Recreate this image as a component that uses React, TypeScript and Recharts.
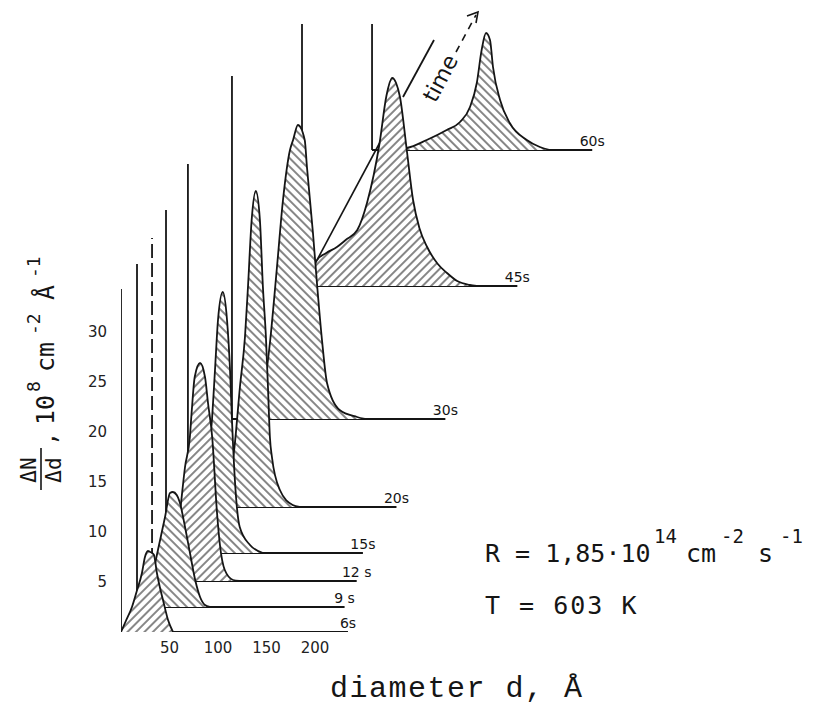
import React from 'react';
import { ComposedChart, Area, Line, XAxis, YAxis, Customized, LabelList } from 'recharts';

// time slices of the waterfall (front to back)
const sliceLabels = ['6s', '9 s', '12 s', '15s', '20s', '30s', '45s', '60s'];
// position of each slice origin along the oblique time axis, in Å and in 10^8 cm^-2 Å^-1
const shiftD = [0, 16.5, 32, 46.4, 69, 114.4, 186.6, 258.8];
const shiftN = [0, 2.5, 5.1, 7.9, 12.5, 21.3, 34.6, 48.2];
const axisTop = 34.3;
const baselineEnd = [234, 214, 211, 203, 215, 220, 222, 227];

// size distributions: diameter d (Å) and ΔN/Δd
const d6 = [0, 5, 11.3, 16, 21.6, 24.7, 27.8, 30, 32, 34, 37, 40, 43.3, 48.5, 53.6];
const n6 = [0, 1.1, 2.5, 4.0, 5.9, 7.5, 8.1, 8.0, 7.9, 7.7, 5.9, 4.5, 3.2, 1.2, 0];
const d9 = [0, 5, 10, 15, 21.6, 28.9, 34, 37, 41, 44, 49.5, 54.6, 60, 65, 70, 75];
const n9 = [0, 0.3, 1.2, 2.8, 5.7, 9.0, 11.4, 11.5, 11.2, 10.5, 8.0, 5.4, 2.7, 1.0, 0.2, 0];
const d12 = [0, 8, 13, 18.5, 24, 29, 34, 39, 41, 44, 49.5, 54.6, 57.7, 62, 67, 70, 75, 83.5, 90];
const n12 = [0, 0, 0.1, 0.6, 3, 7, 11.4, 14.4, 17.1, 20.4, 21.8, 20.4, 17.8, 14.4, 6.8, 3.6, 1.1, 0.1, 0];
const d15 = [0, 20, 24, 27, 33, 40, 47.4, 50.5, 53.6, 58.5, 62.9, 66, 68, 71, 76, 86.6, 100];
const n15 = [0, 0, 0, 0.3, 2.3, 7.3, 13.3, 18.3, 23.3, 26.1, 23.3, 18.3, 13.3, 7.3, 2.6, 0.8, 0];
const d20 = [0, 30, 36, 42, 48, 53.6, 58.8, 61.9, 65.7, 70, 74.2, 77.3, 80.4, 82.5, 84.5, 86.6, 94.8, 108, 115];
const n20 = [0, 0, 0, 2, 6, 12, 17, 22, 28.7, 31.6, 28.7, 22, 17, 12, 7, 5, 1.7, 0.2, 0];
const d30 = [0, 14, 20, 26, 33, 39, 46.4, 52.6, 59.8, 63, 68, 75, 77.3, 83.5, 87.6, 92.8, 98, 111, 129, 137];
const n30 = [0, 0, 0.1, 0.6, 3, 7.5, 15.2, 21.9, 26.9, 27.9, 29.4, 27.9, 25.2, 18.6, 13.6, 7.9, 3.6, 0.9, 0.2, 0];
const d45 = [0, 8, 15.5, 25, 36, 45, 57, 67, 80, 87, 93, 97, 101, 108, 114.5, 121, 129, 140, 149.5, 160, 173, 180];
const n45 = [0, 1.0, 2.6, 3.3, 3.9, 4.6, 5.6, 8.3, 14.3, 19, 20.8, 20.3, 18.9, 13.6, 8.6, 5.8, 3.9, 2.2, 1.3, 0.5, 0.1, 0];
const d60 = [0, 20, 35.8, 56.4, 77, 90.7, 101, 108, 113, 117.5, 121.6, 124.7, 132, 142, 159.5, 173, 183.5];
const n60 = [0, 0.05, 0.2, 1, 2, 2.8, 4.3, 6.7, 10, 11.7, 11, 8.3, 5, 2.7, 1, 0.3, 0];
const curvesD = [d6, d9, d12, d15, d20, d30, d45, d60];
const curvesN = [n6, n9, n12, n15, n20, n30, n45, n60];
// straight envelope edge on the 45 s distribution
const edge45D = [15.5, 80];
const edge45N = [2.6, 14.3];

const xTicks = [50, 100, 150, 200];
const yTicks = [5, 10, 15, 20, 25, 30];

const hatchIds = ['hatchF', 'hatchB', 'hatchF', 'hatchB', 'hatchB', 'hatchB', 'hatchF', 'hatchB'];

const slices = sliceLabels.map((label, i) => ({
  label,
  dy: shiftN[i],
  curve: curvesD[i].map((d, j) => ({ x: shiftD[i] + d, y: shiftN[i] + curvesN[i][j] })),
  axis: [
    { x: shiftD[i], y: shiftN[i] },
    { x: shiftD[i], y: shiftN[i] + axisTop },
  ],
  base: [
    { x: shiftD[i], y: shiftN[i], lbl: '' },
    { x: shiftD[i] + baselineEnd[i], y: shiftN[i], lbl: label },
  ],
}));

const edge45 = edge45D.map((d, j) => ({ x: shiftD[6] + d, y: shiftN[6] + edge45N[j] }));

const INK = '#151515';

const renderSliceLabel = (props: any) => {
  const { x, y, value } = props;
  if (!value) return null;
  return (
    <text x={x} y={y - 4} textAnchor="middle" fontSize={14} fontFamily="DejaVu Sans" fill={INK}>
      {value}
    </text>
  );
};

const Defs = () => (
  <defs>
    <pattern id="hatchF" patternUnits="userSpaceOnUse" width="6" height="6" patternTransform="rotate(45)">
      <rect width="6" height="6" fill="#fff" />
      <line x1="3" y1="0" x2="3" y2="6" stroke="#222" strokeWidth="1.1" />
    </pattern>
    <pattern id="hatchB" patternUnits="userSpaceOnUse" width="6" height="6" patternTransform="rotate(-45)">
      <rect width="6" height="6" fill="#fff" />
      <line x1="3" y1="0" x2="3" y2="6" stroke="#222" strokeWidth="1.1" />
    </pattern>
  </defs>
);

const Annotations = () => (
  <g fill={INK}>
    {/* y axis title */}
    <g transform="translate(54 496) rotate(-90)" fontFamily="DejaVu Sans Mono">
      <text x={26} y={-18} fontSize={21} textAnchor="middle">ΔN</text>
      <line x1={6} x2={48} y1={-13} y2={-13} stroke={INK} strokeWidth={1.6} />
      <text x={26} y={7} fontSize={21} textAnchor="middle">Δd</text>
      <text x={50} y={2} fontSize={24}>,</text>
      <text x={71} y={0} fontSize={25}>10</text>
      <text x={104} y={-14} fontSize={18}>8</text>
      <text x={124} y={0} fontSize={25}>cm</text>
      <text x={161} y={-14} fontSize={18}>-2</text>
      <text x={196} y={0} fontSize={25}>Å</text>
      <text x={218} y={-14} fontSize={18}>-1</text>
    </g>
    {/* x axis title */}
    <text x={330} y={697} fontSize={30} letterSpacing={1.5} fontFamily="Liberation Mono">diameter d, Å</text>
    {/* conditions */}
    <g fontFamily="DejaVu Sans Mono">
      <text x={485} y={562} fontSize={25}>R = 1,85·10</text>
      <text x={654} y={543} fontSize={19}>14</text>
      <text x={686} y={562} fontSize={25}>cm</text>
      <text x={721} y={543} fontSize={19}>-2</text>
      <text x={758} y={562} fontSize={25}>s</text>
      <text x={780} y={543} fontSize={19}>-1</text>
      <text x={485} y={614} fontSize={25} letterSpacing={2}>T = 603 K</text>
    </g>
    {/* time arrow */}
    <line x1={403} y1={97} x2={434} y2={40} stroke={INK} strokeWidth={1.8} />
    <line x1={456} y1={52} x2={476} y2={15} stroke={INK} strokeWidth={1.6} strokeDasharray="7 6" />
    <polyline points="467,16 478,12 476,23" fill="none" stroke={INK} strokeWidth={1.6} />
    <text
      x={440}
      y={86}
      fontSize={22}
      fontFamily="DejaVu Sans"
      transform="rotate(-62 440 78)"
      textAnchor="middle"
    >
      time
    </text>
  </g>
);

// every mark is an Area so that they share one drawing layer and paint back-to-front
const strokeOnly = (key: string, data: any[], extra: any = {}, children: any = null) => (
  <Area
    key={key}
    data={data}
    dataKey="y"
    type="linear"
    fill="none"
    stroke={INK}
    strokeWidth={1.8}
    dot={false}
    activeDot={false}
    isAnimationActive={false}
    {...extra}
  >
    {children}
  </Area>
);

export default function App() {
  const ordered = [...slices].reverse();
  return (
    <div style={{ position: 'absolute', left: 0, top: 0, background: '#fff' }}>
      <ComposedChart width={822} height={707} margin={{ top: 24, right: 216, bottom: 45, left: 91 }}>
        <Customized component={Defs} />
        <XAxis
          type="number"
          dataKey="x"
          domain={[0, 500]}
          ticks={xTicks}
          allowDataOverflow
          axisLine={false}
          tickLine={false}
          tickSize={0}
          tickMargin={10}
          height={30}
          tick={{ fontSize: 15, fontFamily: 'DejaVu Sans', fill: '#222' }}
        />
        <YAxis
          type="number"
          dataKey="y"
          domain={[0, 60.8]}
          ticks={yTicks}
          allowDataOverflow
          axisLine={false}
          tickLine={false}
          tickSize={0}
          tickMargin={14}
          width={30}
          tick={{ fontSize: 15, fontFamily: 'DejaVu Sans', fill: '#222' }}
        />
        {ordered.flatMap((s, k) => {
          const i = slices.length - 1 - k;
          const items = [
            strokeOnly(`ax-${i}`, s.axis, i === 2 ? { strokeDasharray: '14 5' } : {}),
            strokeOnly(`bl-${i}`, s.base, {}, <LabelList dataKey="lbl" content={renderSliceLabel} />),
            <Area
              key={`ar-${i}`}
              data={s.curve}
              dataKey="y"
              type="monotone"
              baseValue={s.dy}
              fill={`url(#${hatchIds[i]})`}
              fillOpacity={1}
              stroke={INK}
              strokeWidth={1.8}
              dot={false}
              activeDot={false}
              isAnimationActive={false}
            />,
          ];
          if (i === 6) {
            items.push(strokeOnly('edge45', edge45, { strokeWidth: 1.6 }));
          }
          return items;
        })}
        <Customized component={Annotations} />
      </ComposedChart>
    </div>
  );
}
